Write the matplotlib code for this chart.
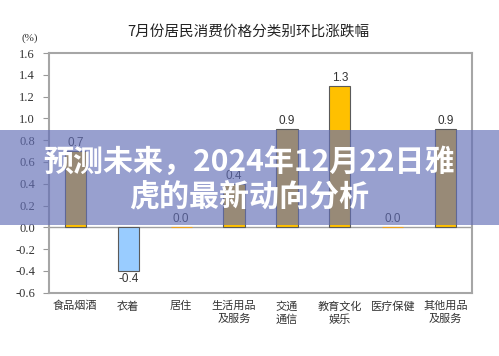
import numpy as np
import matplotlib
matplotlib.use("Agg")
from matplotlib import pyplot as plt
from matplotlib.patches import Rectangle

# data
categories = ["食品烟酒", "衣着", "居住", "生活用品\n及服务", "交通\n通信",
              "教育文化\n娱乐", "医疗保健", "其他用品\n及服务"]
values = [0.7, -0.4, 0.0, 0.4, 0.9, 1.3, 0.0, 0.9]
bar_colors = ["#ffc000", "#99ccff", "#ffc000", "#ffc000", "#ffc000",
              "#ffc000", "#ffc000", "#ffc000"]
yticks = [-0.6, -0.4, -0.2, 0.0, 0.2, 0.4, 0.6, 0.8, 1.0, 1.2, 1.4, 1.6]
title = "7月份居民消费价格分类别环比涨跌幅"
banner = "预测未来，2024年12月22日雅\n虎的最新动向分析"

cjk = ["Noto Sans CJK SC", "DejaVu Sans"]

fig = plt.figure(figsize=(4.99, 3.56), dpi=100)
ax = fig.add_axes([0.098, 0.178, 0.848, 0.673])

x = np.arange(len(categories))
edge = ["#5a5a5a" if v != 0 else "#e8a020" for v in values]
bars = ax.bar(x, values, width=0.4, color=bar_colors, edgecolor=edge,
              linewidth=0.8, zorder=2)
labels = ["%.1f" % v for v in values]
ax.bar_label(bars, labels=labels, padding=1.5, fontsize=8.5,
             family="Liberation Sans", color="#333333")
ax.axhline(0, color="#a0a0a0", lw=1, zorder=1)

ax.set_xlim(-0.5, len(categories) - 0.5)
ax.set_ylim(-0.6, 1.6)
ax.set_yticks(yticks)
ax.set_yticklabels(["%.1f" % t for t in yticks], family="Liberation Serif",
                   fontsize=9, color="#333333")
ax.set_xticks(x)
ax.set_xticklabels(categories, family=cjk, fontsize=8, color="#333333",
                   linespacing=1.3)
ax.tick_params(axis="x", length=0, pad=6)
ax.tick_params(axis="y", length=4, width=0.8, color="#999999", pad=6, direction="out")
for s in ax.spines.values():
    s.set_color("#a6a6a6")
    s.set_linewidth(1.5)

fig.text(248 / 499, 1 - 32 / 356, title, family=cjk, fontsize=10.5,
         ha="center", va="center", color="#222222")
fig.text(30 / 499, 1 - 38 / 356, "(%)", family="Liberation Serif", fontsize=8,
         ha="center", va="center", color="#333333")

# overlay banner
fig.patches.append(Rectangle((0, 0.368), 1, 0.267, transform=fig.transFigure,
                             facecolor="#626eb7", alpha=0.655, edgecolor="none",
                             zorder=5))
fig.text(249 / 499, 1 - 179 / 356, banner, family=cjk, fontsize=21.6,
         fontweight="bold", color="white", ha="center", va="center",
         linespacing=1.22, zorder=6)

plt.savefig("out.png", dpi=100)
